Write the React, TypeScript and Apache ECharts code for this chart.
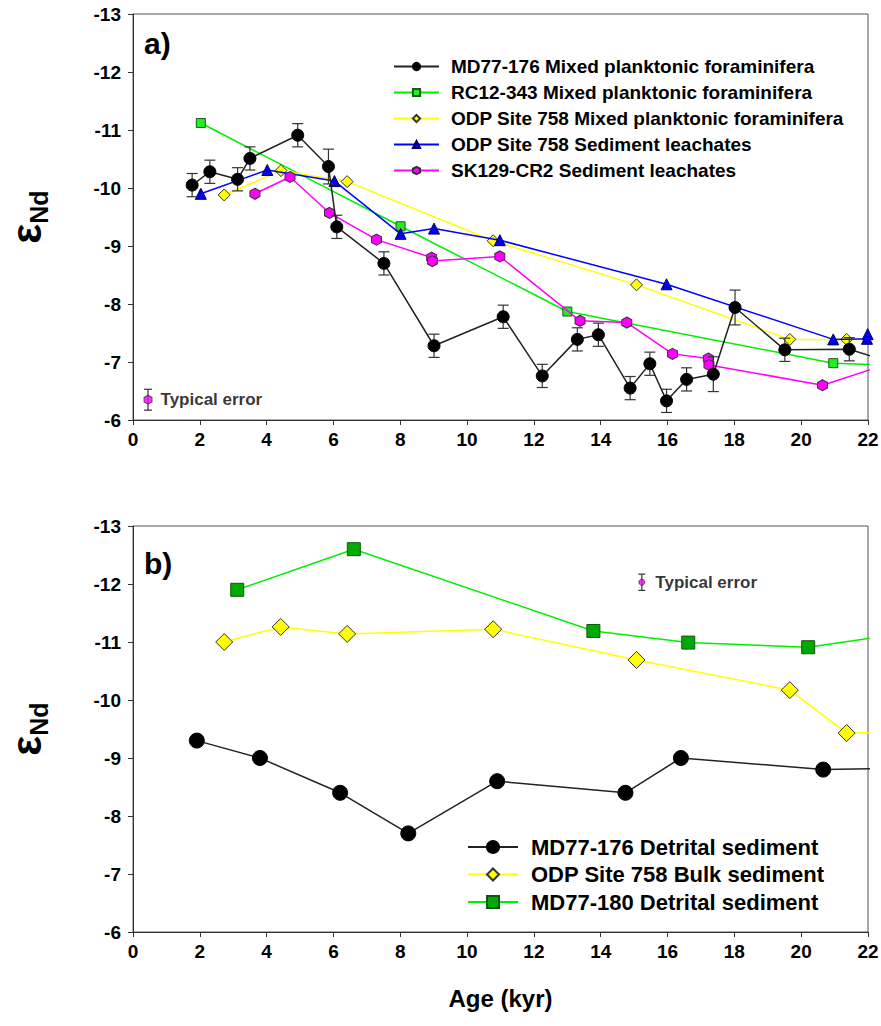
import React, { useEffect, useRef } from "react";
import * as echarts from "echarts";

// ---------- Panel a) data ----------
const mdAge = [1.77, 2.3, 3.13, 3.5, 4.93, 5.85, 6.1, 7.51, 9.01, 11.08, 12.25, 13.3, 13.93, 14.88, 15.47, 15.97, 16.57, 17.37, 18.02, 19.51, 21.44, 22.5];
const mdEnd = [-10.05, -10.28, -10.15, -10.51, -10.91, -10.37, -9.33, -8.7, -7.28, -7.78, -6.76, -7.39, -7.47, -6.55, -6.97, -6.33, -6.7, -6.79, -7.94, -7.21, -7.22, -7.03];
const mdErr = [0.2, 0.2, 0.2, 0.2, 0.2, 0.3, 0.2, 0.2, 0.2, 0.2, 0.2, 0.2, 0.2, 0.2, 0.2, 0.2, 0.2, 0.3, 0.3, 0.2, 0.2, 0];

const rcAge = [2.03, 8.01, 13.0, 20.96, 23];
const rcEnd = [-11.12, -9.34, -7.87, -6.98, -6.94];

const odpForamAge = [2.73, 4.43, 6.41, 10.78, 15.07, 19.66, 21.36, 22.5];
const odpForamEnd = [-9.88, -10.3, -10.11, -9.09, -8.33, -7.39, -7.39, -7.39];

const odpLeachAge = [2.03, 4.02, 6.03, 8.01, 9.01, 10.98, 15.97, 20.96, 21.97, 21.99];
const odpLeachEnd = [-9.9, -10.31, -10.12, -9.21, -9.3, -9.1, -8.34, -7.39, -7.4, -7.48];

const skAge = [3.65, 4.7, 5.88, 7.29, 8.94, 8.96, 10.98, 13.38, 14.78, 16.15, 17.22, 17.24, 20.64, 22.5];
const skEnd = [-9.9, -10.19, -9.57, -9.11, -8.8, -8.74, -8.82, -7.71, -7.68, -7.14, -7.06, -6.95, -6.6, -6.95];

const topTypical = [0.45, -6.35, 0.18];

// ---------- Panel b) data ----------
const mdDetAge = [1.91, 3.8, 6.2, 8.24, 10.9, 14.74, 16.4, 20.66, 22.5];
const mdDetEnd = [-9.3, -9.0, -8.4, -7.7, -8.6, -8.4, -9.0, -8.8, -8.82];

const odpBulkAge = [2.73, 4.42, 6.41, 10.78, 15.07, 19.66, 21.36, 22.5];
const odpBulkEnd = [-11.0, -11.26, -11.14, -11.22, -10.69, -10.17, -9.43, -9.44];

const md180Age = [3.12, 6.61, 13.78, 16.62, 20.21, 22.5];
const md180End = [-11.9, -12.6, -11.19, -10.99, -10.91, -11.1];

const bottomTypical = [15.23, -12.03, 0.14];

// ---------- names ----------
const topNames = [
  "MD77-176 Mixed planktonic foraminifera",
  "RC12-343 Mixed planktonic foraminifera",
  "ODP Site 758 Mixed planktonic foraminifera",
  "ODP Site 758 Sediment leachates",
  "SK129-CR2 Sediment leachates",
];
const bottomNames = [
  "MD77-176 Detrital sediment",
  "ODP Site 758 Bulk sediment",
  "MD77-180 Detrital sediment",
];

const HEX = "path://M0,-1 L0.866,-0.5 L0.866,0.5 L0,1 L-0.866,0.5 L-0.866,-0.5 Z";
const FONT = "'Liberation Sans', Arial, sans-serif";

const pairs = (xs: number[], ys: number[]) => xs.map((x, i) => [x, ys[i]]);

function errorRender(cap: number, color: string, lw: number) {
  return (params: any, api: any) => {
    const x = api.value(0);
    const y = api.value(1);
    const e = api.value(2);
    const a = api.coord([x, y - e]);
    const b = api.coord([x, y + e]);
    const hw = cap / 2;
    const st = { stroke: color, lineWidth: lw };
    return {
      type: "group",
      children: [
        { type: "line", shape: { x1: a[0], y1: a[1], x2: b[0], y2: b[1] }, style: st },
        { type: "line", shape: { x1: a[0] - hw, y1: a[1], x2: a[0] + hw, y2: a[1] }, style: st },
        { type: "line", shape: { x1: b[0] - hw, y1: b[1], x2: b[0] + hw, y2: b[1] }, style: st },
      ],
    };
  };
}

function lineSeries(name: string, data: number[][], gi: number, color: string, fill: string, border: string, symbol: string, size: any, z: number, lw = 1.5) {
  return {
    type: "line",
    name,
    data,
    xAxisIndex: gi,
    yAxisIndex: gi,
    symbol,
    symbolSize: size,
    showSymbol: true,
    clip: true,
    z,
    lineStyle: { color, width: lw },
    itemStyle: { color: fill, borderColor: border, borderWidth: 1 },
    emphasis: { disabled: true },
  };
}

function makeX(gi: number, withName: boolean) {
  return {
    type: "value",
    gridIndex: gi,
    min: 0,
    max: 22,
    interval: 2,
    name: withName ? "Age (kyr)" : "",
    nameLocation: "middle",
    nameGap: 54,
    nameTextStyle: { fontFamily: FONT, fontWeight: "bold", fontSize: 24, color: "#000" },
    axisLine: { show: true, onZero: false, lineStyle: { color: "#333", width: 1 } },
    axisTick: { show: true, inside: false, length: 5, lineStyle: { color: "#333" } },
    axisLabel: { fontFamily: FONT, fontWeight: "bold", fontSize: 19, color: "#000", margin: 10 },
    splitLine: { show: false },
  };
}

function makeY(gi: number) {
  return {
    type: "value",
    gridIndex: gi,
    inverse: true,
    min: -13,
    max: -6,
    interval: 1,
    name: "{e|ε}{s|Nd}",
    nameLocation: "middle",
    nameRotate: 90,
    nameGap: 86,
    nameTextStyle: {
      color: "#000",
      rich: {
        e: { fontFamily: FONT, fontWeight: "bold", fontSize: 42, lineHeight: 42, color: "#000", verticalAlign: "bottom" },
        s: { fontFamily: FONT, fontWeight: "bold", fontSize: 25, lineHeight: 25, color: "#000", verticalAlign: "bottom", padding: [0, 0, -4, 0] },
      },
    },
    axisLine: { show: true, onZero: false, lineStyle: { color: "#333", width: 1 } },
    axisTick: { show: true, inside: false, length: 5, lineStyle: { color: "#333" } },
    axisLabel: { fontFamily: FONT, fontWeight: "bold", fontSize: 19, color: "#000", margin: 12 },
    splitLine: { show: false },
  };
}

export default function App() {
  const ref = useRef<HTMLDivElement>(null);

  useEffect(() => {
    if (!ref.current) return;
    const chart = echarts.init(ref.current, null, { renderer: "svg" });

    const mdErrData = mdAge
      .map((a, i) => [a, mdEnd[i], mdErr[i]])
      .filter((d) => d[2] > 0);

    const gridBase = {
      left: 133,
      width: 735,
      height: 406,
      show: true,
      borderColor: "#555",
      borderWidth: 1,
      backgroundColor: "transparent",
      containLabel: false,
      outerBoundsMode: "none",
    };

    const option: any = {
      animation: false,
      backgroundColor: "#fff",
      title: [
        { text: "a)", left: 139, top: 23, textStyle: { fontFamily: FONT, fontWeight: "bold", fontSize: 30, color: "#000" } },
        { text: "b)", left: 139, top: 543, textStyle: { fontFamily: FONT, fontWeight: "bold", fontSize: 30, color: "#000" } },
      ],
      grid: [
        { ...gridBase, top: 14 },
        { ...gridBase, top: 526 },
      ],
      xAxis: [makeX(0, false), makeX(1, true)],
      yAxis: [makeY(0), makeY(1)],
      legend: [
        {
          data: topNames,
          orient: "vertical",
          left: 388,
          top: 52,
          itemWidth: 45,
          itemHeight: 9,
          itemGap: 7,
          selectedMode: false,
          textStyle: { fontFamily: FONT, fontWeight: "bold", fontSize: 19, lineHeight: 19, color: "#000", padding: [0, 0, 0, 7] },
        },
        {
          data: bottomNames,
          orient: "vertical",
          left: 462,
          top: 831,
          itemWidth: 50,
          itemHeight: 15,
          itemGap: 5.5,
          selectedMode: false,
          textStyle: { fontFamily: FONT, fontWeight: "bold", fontSize: 22, lineHeight: 22, color: "#000", padding: [0, 0, 0, 8] },
        },
      ],
      series: [
        lineSeries(topNames[1], pairs(rcAge, rcEnd), 0, "#00ee00", "#22ee22", "#1a5a1a", "rect", 9, 3),
        lineSeries(topNames[2], pairs(odpForamAge, odpForamEnd), 0, "#ffff00", "#ffff00", "#333", "diamond", 12, 4),
        lineSeries(topNames[3], pairs(odpLeachAge, odpLeachEnd), 0, "#0000ff", "#0000ee", "#000066", "triangle", 11, 5),
        lineSeries(topNames[4], pairs(skAge, skEnd), 0, "#ff00ff", "#ff00ff", "#333", HEX, [10, 11], 6),
        {
          type: "custom",
          name: "mdErr",
          xAxisIndex: 0,
          yAxisIndex: 0,
          data: mdErrData,
          encode: { x: 0, y: 1 },
          renderItem: errorRender(11, "#333", 1.2),
          z: 7,
          silent: true,
        },
        lineSeries(topNames[0], pairs(mdAge, mdEnd), 0, "#222", "#000", "#000", "circle", 12, 8),
        {
          type: "custom",
          name: "topTypErr",
          xAxisIndex: 0,
          yAxisIndex: 0,
          data: [topTypical],
          encode: { x: 0, y: 1 },
          renderItem: errorRender(8, "#333", 1.2),
          z: 7,
          silent: true,
        },
        {
          type: "scatter",
          name: "topTyp",
          xAxisIndex: 0,
          yAxisIndex: 0,
          data: [[topTypical[0], topTypical[1]]],
          symbol: HEX,
          symbolSize: [8, 9],
          z: 8,
          itemStyle: { color: "#ff00ff", borderColor: "#333", borderWidth: 1 },
          label: { show: true, position: "right", distance: 8, formatter: "Typical error", fontFamily: FONT, fontWeight: "bold", fontSize: 17, color: "#000" },
          silent: true,
        },
        // bottom panel
        lineSeries(bottomNames[2], pairs(md180Age, md180End), 1, "#00ee00", "#00aa00", "#115511", "rect", 13, 3),
        lineSeries(bottomNames[1], pairs(odpBulkAge, odpBulkEnd), 1, "#ffff00", "#ffff00", "#333", "diamond", 17, 4),
        lineSeries(bottomNames[0], pairs(mdDetAge, mdDetEnd), 1, "#222", "#000", "#000", "circle", 15, 5),
        {
          type: "custom",
          name: "botTypErr",
          xAxisIndex: 1,
          yAxisIndex: 1,
          data: [bottomTypical],
          encode: { x: 0, y: 1 },
          renderItem: errorRender(7, "#333", 1.2),
          z: 7,
          silent: true,
        },
        {
          type: "scatter",
          name: "botTyp",
          xAxisIndex: 1,
          yAxisIndex: 1,
          data: [[bottomTypical[0], bottomTypical[1]]],
          symbol: "circle",
          symbolSize: 6,
          z: 8,
          itemStyle: { color: "#ff00ff", borderColor: "#333", borderWidth: 1 },
          label: { show: true, position: "right", distance: 10, formatter: "Typical error", fontFamily: FONT, fontWeight: "bold", fontSize: 17, color: "#000" },
          silent: true,
        },
      ],
    };

    chart.setOption(option);
    return () => chart.dispose();
  }, []);

  return <div ref={ref} style={{ position: "fixed", left: 0, top: 0, width: 881, height: 1026 }} />;
}
